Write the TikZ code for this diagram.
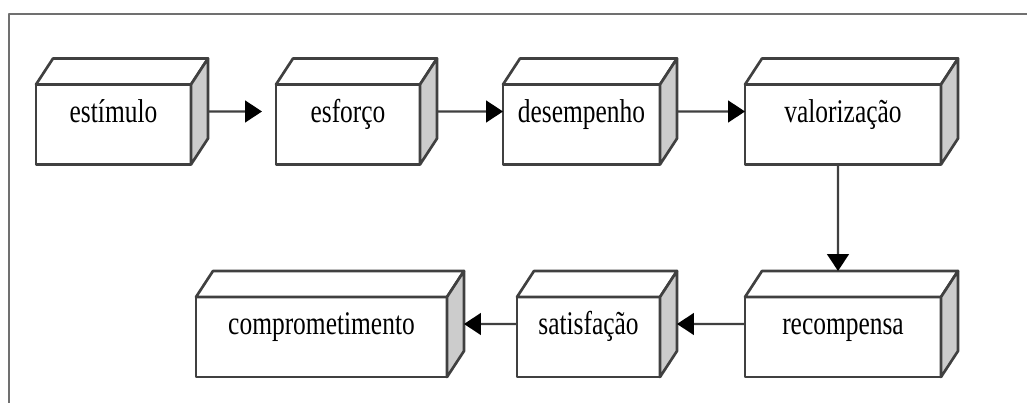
\documentclass[tikz,border=0pt]{standalone}
\usepackage{fontspec}
\setmainfont{Liberation Serif}
\newfontfamily\caixafont[FakeStretch=0.77]{Liberation Serif}
\usepackage{tikz}
\usetikzlibrary{arrows.meta}
\definecolor{linha}{HTML}{404040}
\definecolor{lado}{HTML}{CCCCCC}
\definecolor{moldura}{HTML}{707070}

\begin{document}
\begin{tikzpicture}[x=0.25mm, y=0.25mm, line join=round,
    caixa/.style={draw=linha, line width=1.9pt, fill=white, inner sep=0pt, outer sep=0pt,
      text height=9.5mm, text depth=10.5mm, text=black,
      font=\caixafont\fontsize{23.5}{27}\selectfont},
    face/.style={draw=linha, line width=1.9pt},
    seta/.style={draw=linha, line width=1.5pt,
      -{Triangle[length=4.2mm, width=5.4mm, color=black]}}]
    \useasboundingbox (0,0) rectangle (1027,403);
    \draw[moldura, line width=1.6pt] (1027,389) -- (9,389) -- (9,0);

    \node[caixa, minimum width=38.75mm] (est) at (113.5,278.5) {estímulo};
    \node[caixa, minimum width=36mm]    (esf) at (348,278.5)   {esforço};
    \node[caixa, minimum width=39.25mm] (des) at (581.5,278.5) {desempenho};
    \node[caixa, minimum width=49mm]    (val) at (843,278.5)   {valorização};
    \node[caixa, minimum width=49mm]    (rec) at (843,66)      {recompensa};
    \node[caixa, minimum width=35.75mm] (sat) at (588.5,66)    {satisfação};
    \node[caixa, minimum width=62.75mm] (com) at (321.5,66)    {comprometimento};

    \foreach \n in {est,esf,des,val,rec,sat,com} {
      \draw[face, fill=white]
      (\n.north west) -- ++(17,26) -- ([shift={(17,26)}]\n.north east) -- (\n.north east) -- cycle;
      \draw[face, fill=lado]
      (\n.north east) -- ++(17,26) -- ([shift={(17,26)}]\n.south east) -- (\n.south east) -- cycle;
    }

    \draw[seta, shorten >=3.5mm] ([shift={(17,13)}]est.east) -- ([yshift=3.25mm]esf.west);
    \draw[seta] ([shift={(17,13)}]esf.east) -- ([yshift=3.25mm]des.west);
    \draw[seta] ([shift={(17,13)}]des.east) -- ([yshift=3.25mm]val.west);
    \draw[seta] ([xshift=-1.25mm]val.south) -- ([shift={(-5,26)}]rec.north);
    \draw[seta] ([yshift=3.25mm]rec.west) -- ([shift={(17,13)}]sat.east);
    \draw[seta] ([yshift=3.25mm]sat.west) -- ([shift={(17,13)}]com.east);
\end{tikzpicture}
\end{document}
